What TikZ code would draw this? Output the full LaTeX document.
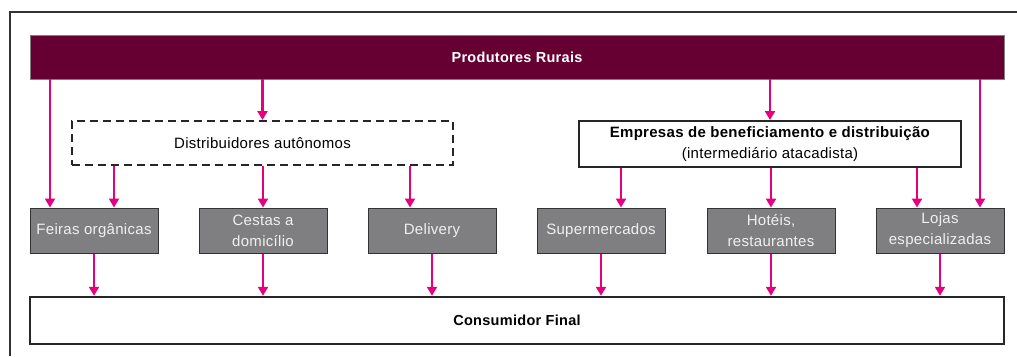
\documentclass[tikz,border=0pt]{standalone}
\usepackage{fontspec}
\setmainfont{Liberation Sans}[LetterSpace=2]
\usepackage{tikz}
\usetikzlibrary{arrows.meta,positioning}

\definecolor{vinho}{HTML}{660033}
\definecolor{rosa}{HTML}{E6007E}
\definecolor{cinza}{HTML}{7F7F82}
\definecolor{moldura}{HTML}{333333}

\tikzset{
  barra/.style={fill=vinho, draw=gray, line width=0.8pt, text=white,
    minimum width=974pt, minimum height=44pt, inner sep=0pt,
    font=\fontsize{14.5}{18}\selectfont\bfseries},
  canal/.style={fill=cinza, draw=moldura, line width=1pt, text=white!94!black,
    minimum width=128pt, minimum height=45pt, inner sep=0pt, align=center,
    font=\fontsize{15}{21}\selectfont},
  intermed/.style={draw=black!85, fill=white, line width=2pt,
    minimum height=44pt, inner sep=0pt, align=center,
    font=\fontsize{15}{21}\selectfont},
  fluxo/.style={rosa, line width=2.4pt, -{Triangle[width=10pt,length=9pt]}}
}

\begin{document}
\begin{tikzpicture}[x=1pt,y=1pt]
\useasboundingbox (0,0) rectangle (1017,-356);
% moldura
\draw [moldura, line width=2pt] (1017,-12) -- (10,-12) -- (10,-356);
% topo e base
\node [barra] (prod) at (517,-57) {Produtores Rurais};
\node [intermed, minimum width=974pt, minimum height=47pt, line width=2.5pt,
  font=\fontsize{14.5}{18}\selectfont\bfseries] (cons) at (517,-320.5) {Consumidor Final};
% intermediarios
\node [intermed, minimum width=381pt, dash pattern=on 8pt off 5pt] (dist) at (262.5,-143) {Distribuidores autônomos};
\node [intermed, minimum width=382pt, minimum height=46pt] (emp) at (770,-144)
  {\textbf{Empresas de beneficiamento e distribuição}\\(intermediário atacadista)};
% canais de venda
\node [canal] (feiras) at (94,-230.5) {Feiras orgânicas};
\node [canal] (cestas) at (263,-230.5) {Cestas a\\domicílio};
\node [canal] (deliv) at (432,-230.5) {Delivery};
\node [canal] (super) at (601,-230.5) {Supermercados};
\node [canal] (hoteis) at (771,-230.5) {Hotéis,\\restaurantes};
\node [canal] (lojas) at (940,-230.5) {Lojas\\especializadas};
% pontos de chegada deslocados
\coordinate (feirasA) at ([xshift=-44pt]feiras.north);
\coordinate (feirasB) at ([xshift=20pt]feiras.north);
\coordinate (delivA) at ([xshift=-22pt]deliv.north);
\coordinate (superA) at ([xshift=20pt]super.north);
\coordinate (lojasA) at ([xshift=-23pt]lojas.north);
\coordinate (lojasB) at ([xshift=40pt]lojas.north);
% setas do produtor
\draw [fluxo] (prod.south -| feirasA) -- (feirasA);
\draw [fluxo] (prod.south -| dist.north) -- (dist.north);
\draw [fluxo] (prod.south -| emp.north) -- (emp.north);
\draw [fluxo] (prod.south -| lojasB) -- (lojasB);
% setas dos distribuidores
\draw [fluxo] (dist.south -| feirasB) -- (feirasB);
\draw [fluxo] (dist.south -| cestas.north) -- (cestas.north);
\draw [fluxo] (dist.south -| delivA) -- (delivA);
% setas das empresas
\draw [fluxo] (emp.south -| superA) -- (superA);
\draw [fluxo] (emp.south -| hoteis.north) -- (hoteis.north);
\draw [fluxo] (emp.south -| lojasA) -- (lojasA);
% setas ao consumidor
\draw [fluxo] (feiras.south) -- (feiras.south |- cons.north);
\draw [fluxo] (cestas.south) -- (cestas.south |- cons.north);
\draw [fluxo] (deliv.south) -- (deliv.south |- cons.north);
\draw [fluxo] (super.south) -- (super.south |- cons.north);
\draw [fluxo] (hoteis.south) -- (hoteis.south |- cons.north);
\draw [fluxo] (lojas.south) -- (lojas.south |- cons.north);
\end{tikzpicture}
\end{document}
